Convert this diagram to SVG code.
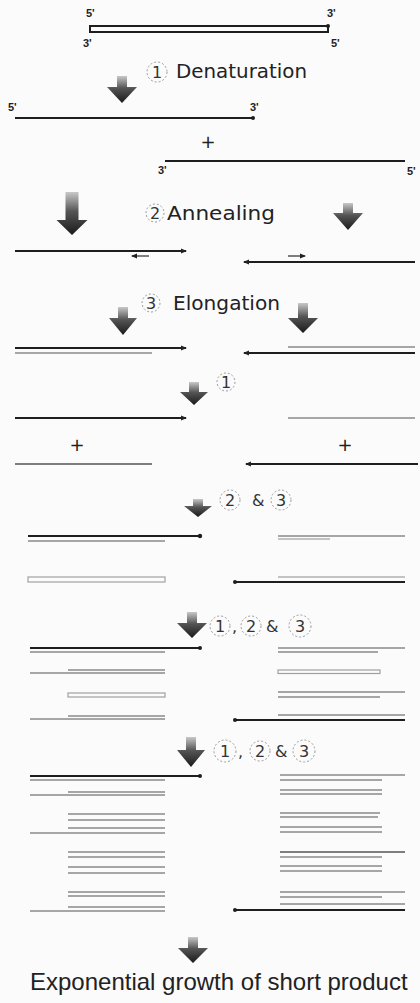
<svg xmlns="http://www.w3.org/2000/svg" width="420" height="1003" viewBox="0 0 420 1003">
<style>
.bg{fill:#fbfbfb}
.lbl{font-family:"DejaVu Sans","Liberation Sans",sans-serif;font-size:20px;fill:#222}
.fin{font-family:"Liberation Sans",Arial,sans-serif;font-size:24px;fill:#222}
.num{font-family:"DejaVu Sans","Liberation Sans",sans-serif;font-size:16px;fill:#333;text-anchor:middle}
.amp{font-family:"DejaVu Sans","Liberation Sans",sans-serif;font-size:16px;fill:#333}
.pr{font-family:"Liberation Sans",sans-serif;font-size:11px;font-weight:bold;fill:#222}
.plus{font-family:"DejaVu Sans",sans-serif;font-size:18px;fill:#222;text-anchor:middle}
.cir{fill:none;stroke:#9a9a9a;stroke-width:1;stroke-dasharray:2 2}
.arr{fill:url(#ag)}
.dk{stroke:#1e1e1e;stroke-width:1.8;fill:none}
.md{stroke:#555;stroke-width:1.5;fill:none}
.gr{stroke:#8a8a8a;stroke-width:1.4;fill:none}
.lt{stroke:#b0b0b0;stroke-width:1.3;fill:none}
.dot{fill:#1e1e1e}
</style>
<defs>
<linearGradient id="ag" x1="0" y1="0" x2="0" y2="1">
<stop offset="0" stop-color="#c8c8c8"/>
<stop offset="0.45" stop-color="#555"/>
<stop offset="1" stop-color="#1a1a1a"/>
</linearGradient>
<marker id="ah" viewBox="0 0 6 6" refX="5" refY="3" markerWidth="6" markerHeight="6" orient="auto-start-reverse" markerUnits="userSpaceOnUse">
<path d="M0,0.5 L6,3 L0,5.5 Z" fill="#222"/>
</marker>
</defs>
<rect class="bg" x="0" y="0" width="420" height="1003"/>

<g id="arrows">
<path class="arr" d="M117,76 L127,76 L127,87 L137,87 L122,103 L107,87 L117,87 Z"/>
<path class="arr" d="M65.5,192 L78.5,192 L78.5,220 L87.5,220 L72,235 L56.5,220 L65.5,220 Z"/>
<path class="arr" d="M343,203 L353,203 L353,213 L363,213 L348,230 L333,213 L343,213 Z"/>
<path class="arr" d="M118,307 L128,307 L128,318 L137,318 L123,335 L109,318 L118,318 Z"/>
<path class="arr" d="M298,303 L308,303 L308,318 L318,318 L303,333 L288,318 L298,318 Z"/>
<path class="arr" d="M189,382 L199,382 L199,392 L208,392 L194,405 L180,392 L189,392 Z"/>
<path class="arr" d="M193,499 L203,499 L203,506 L212,506 L198,517 L184,506 L193,506 Z"/>
<path class="arr" d="M187,612 L197,612 L197,623 L207,623 L192,638 L177,623 L187,623 Z"/>
<path class="arr" d="M186,737 L196,737 L196,750 L205,750 L191,767 L177,750 L186,750 Z"/>
<path class="arr" d="M188,937 L198,937 L198,948 L208,948 L193,963 L178,948 L188,948 Z"/>
</g>

<g id="template">
<rect x="90" y="26" width="238" height="6" fill="none" stroke="#1e1e1e" stroke-width="2"/>
<circle class="dot" cx="328" cy="26" r="2"/>
<text class="pr" x="86" y="17">5'</text>
<text class="pr" x="327" y="17">3'</text>
<text class="pr" x="83" y="47">3'</text>
<text class="pr" x="331" y="47">5'</text>
</g>

<g id="step1">
<circle class="cir" cx="157" cy="72" r="10"/>
<text class="num" x="157" y="78">1</text>
<text class="lbl" x="176" y="78" textLength="131" lengthAdjust="spacingAndGlyphs">Denaturation</text>
</g>

<g id="single-strands">
<line class="dk" x1="15" y1="118" x2="253" y2="118" stroke-width="1.4"/>
<circle class="dot" cx="253" cy="118" r="2"/>
<text class="pr" x="8" y="111">5'</text>
<text class="pr" x="250" y="111">3'</text>
<text class="plus" x="208" y="148">+</text>
<line class="dk" x1="165" y1="161" x2="405" y2="161" stroke-width="1.4"/>
<text class="pr" x="158" y="174">3'</text>
<text class="pr" x="407" y="175">5'</text>
</g>

<g id="step2">
<circle class="cir" cx="155" cy="213" r="9"/>
<text class="num" x="155" y="219">2</text>
<text class="lbl" x="167" y="220" textLength="108" lengthAdjust="spacingAndGlyphs">Annealing</text>
</g>

<g id="annealed">
<line class="dk" x1="15" y1="251" x2="186" y2="251" stroke-width="1.3" marker-end="url(#ah)"/>
<line class="md" x1="149" y1="256" x2="132" y2="256" stroke-width="1.2" marker-end="url(#ah)"/>
<line class="dk" x1="415" y1="262" x2="244" y2="262" stroke-width="1.3" marker-end="url(#ah)"/>
<line class="md" x1="288" y1="256" x2="305" y2="256" stroke-width="1.2" marker-end="url(#ah)"/>
</g>

<g id="step3">
<circle class="cir" cx="151" cy="303" r="9"/>
<text class="num" x="151" y="309">3</text>
<text class="lbl" x="173" y="310" textLength="107" lengthAdjust="spacingAndGlyphs">Elongation</text>
</g>

<g id="elongated">
<line class="dk" x1="15" y1="348" x2="186" y2="348" stroke-width="1.3" marker-end="url(#ah)"/>
<line class="gr" x1="15" y1="353" x2="152" y2="353"/>
<line class="gr" x1="288" y1="347" x2="415" y2="347"/>
<line class="dk" x1="415" y1="353" x2="244" y2="353" stroke-width="1.3" marker-end="url(#ah)"/>
</g>

<g id="step1b">
<circle class="cir" cx="226" cy="382" r="9"/>
<text class="num" x="226" y="388">1</text>
</g>

<g id="separated">
<line class="dk" x1="15" y1="418" x2="186" y2="418" stroke-width="1.4" marker-end="url(#ah)"/>
<text class="plus" x="77" y="451">+</text>
<line class="md" x1="15" y1="464" x2="152" y2="464"/>
<line class="gr" x1="288" y1="418" x2="415" y2="418"/>
<text class="plus" x="345" y="451">+</text>
<line class="dk" x1="418" y1="464" x2="246" y2="464" stroke-width="1.4" marker-end="url(#ah)"/>
</g>

<g id="step23">
<circle class="cir" cx="230" cy="500" r="10"/>
<text class="num" x="230" y="506">2</text>
<text class="amp" x="252" y="506">&amp;</text>
<circle class="cir" cx="281" cy="500" r="10"/>
<text class="num" x="281" y="506">3</text>
</g>

<g id="cycle2">
<line class="dk" x1="28" y1="536" x2="200" y2="536" stroke-width="2"/>
<circle class="dot" cx="200" cy="536" r="2.2"/>
<line class="gr" x1="28" y1="541" x2="165" y2="541"/>
<line class="gr" x1="278" y1="536" x2="405" y2="536"/>
<line class="lt" x1="278" y1="539" x2="330" y2="539"/>
<rect x="28" y="577" width="137" height="5" fill="none" stroke="#a8a8a8" stroke-width="1.3"/>
<line class="lt" x1="278" y1="577" x2="405" y2="577"/>
<line class="dk" x1="235" y1="582" x2="405" y2="582" stroke-width="1.8"/>
<circle class="dot" cx="235" cy="582" r="2"/>
</g>

<g id="step123a">
<circle class="cir" cx="220" cy="626" r="10"/>
<text class="num" x="220" y="632">1</text>
<text class="amp" x="232" y="632">,</text>
<circle class="cir" cx="251" cy="626" r="10"/>
<text class="num" x="251" y="632">2</text>
<text class="amp" x="266" y="632">&amp;</text>
<circle class="cir" cx="300" cy="626" r="11"/>
<text class="num" x="300" y="632">3</text>
</g>

<g id="cycle3">
<line class="dk" x1="30" y1="648" x2="200" y2="648" stroke-width="1.8"/>
<circle class="dot" cx="200" cy="648" r="2"/>
<line class="gr" x1="30" y1="652" x2="165" y2="652"/>
<line class="gr" x1="68" y1="670" x2="165" y2="670"/>
<line class="gr" x1="30" y1="673" x2="165" y2="673"/>
<rect x="68" y="693" width="97" height="4" fill="none" stroke="#a0a0a0" stroke-width="1.2"/>
<line class="gr" x1="68" y1="716" x2="165" y2="716"/>
<line class="gr" x1="30" y1="719" x2="165" y2="719"/>

<line class="gr" x1="278" y1="648" x2="405" y2="648"/>
<line class="gr" x1="278" y1="652" x2="378" y2="652"/>
<rect x="278" y="670" width="102" height="3.5" fill="none" stroke="#a0a0a0" stroke-width="1.2"/>
<line class="gr" x1="278" y1="692" x2="405" y2="692"/>
<line class="gr" x1="278" y1="697" x2="380" y2="697"/>
<line class="gr" x1="278" y1="715" x2="405" y2="715"/>
<line class="dk" x1="235" y1="720" x2="405" y2="720" stroke-width="1.8"/>
<circle class="dot" cx="235" cy="720" r="2"/>
</g>

<g id="step123b">
<circle class="cir" cx="225" cy="751" r="11"/>
<text class="num" x="225" y="757">1</text>
<text class="amp" x="238" y="757">,</text>
<circle class="cir" cx="260" cy="751" r="10"/>
<text class="num" x="260" y="757">2</text>
<text class="amp" x="275" y="757">&amp;</text>
<circle class="cir" cx="304" cy="751" r="11"/>
<text class="num" x="304" y="757">3</text>
</g>

<g id="cycle4">
<line class="dk" x1="30" y1="776" x2="200" y2="776" stroke-width="1.8"/>
<circle class="dot" cx="200" cy="776" r="2"/>
<line class="gr" x1="30" y1="780" x2="165" y2="780"/>
<line class="gr" x1="68" y1="792" x2="165" y2="792"/>
<line class="gr" x1="30" y1="795" x2="165" y2="795"/>
<line class="gr" x1="68" y1="814" x2="165" y2="814"/>
<line class="gr" x1="68" y1="820" x2="165" y2="820"/>
<line class="gr" x1="68" y1="828" x2="165" y2="828"/>
<line class="gr" x1="30" y1="833" x2="165" y2="833"/>
<line class="gr" x1="68" y1="852" x2="165" y2="852"/>
<line class="gr" x1="68" y1="857" x2="165" y2="857"/>
<line class="gr" x1="68" y1="867" x2="165" y2="867"/>
<line class="gr" x1="68" y1="873" x2="165" y2="873"/>
<line class="gr" x1="68" y1="892" x2="165" y2="892"/>
<line class="gr" x1="68" y1="896" x2="165" y2="896"/>
<line class="gr" x1="68" y1="907" x2="165" y2="907"/>
<line class="gr" x1="30" y1="911" x2="165" y2="911"/>

<line class="gr" x1="280" y1="775" x2="405" y2="775"/>
<line class="gr" x1="280" y1="780" x2="382" y2="780"/>
<line class="gr" x1="280" y1="790" x2="382" y2="790"/>
<line class="gr" x1="280" y1="794" x2="382" y2="794"/>
<line class="gr" x1="280" y1="813" x2="380" y2="813"/>
<line class="gr" x1="280" y1="817" x2="378" y2="817"/>
<line class="gr" x1="280" y1="827" x2="382" y2="827"/>
<line class="gr" x1="280" y1="832" x2="382" y2="832"/>
<line class="md" x1="280" y1="852" x2="405" y2="852" stroke-width="1.8"/>
<line class="gr" x1="280" y1="857" x2="382" y2="857"/>
<line class="gr" x1="280" y1="866" x2="382" y2="866"/>
<line class="gr" x1="280" y1="871" x2="382" y2="871"/>
<line class="gr" x1="280" y1="892" x2="405" y2="892"/>
<line class="gr" x1="280" y1="897" x2="382" y2="897"/>
<line class="gr" x1="280" y1="904" x2="405" y2="904"/>
<line class="dk" x1="235" y1="910" x2="405" y2="910" stroke-width="1.8"/>
<circle class="dot" cx="235" cy="910" r="2"/>
</g>

<g id="result">
<text class="fin" x="30" y="990">Exponential growth of short product</text>
</g>
</svg>
